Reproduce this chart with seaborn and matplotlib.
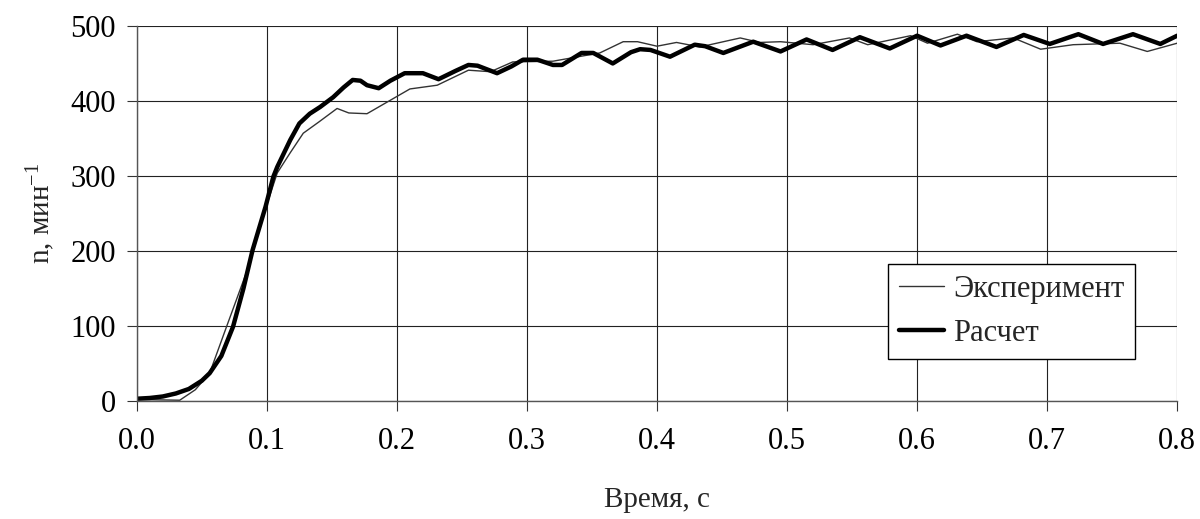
import matplotlib
matplotlib.use("Agg")
import matplotlib.pyplot as plt
import seaborn as sns
import pandas as pd

# --- data ---
calc_t = [0.000, 0.010, 0.020, 0.030, 0.040, 0.050, 0.056, 0.065, 0.074, 0.082,
          0.089, 0.094, 0.099, 0.105, 0.108, 0.118, 0.125, 0.133, 0.141, 0.151,
          0.159, 0.166, 0.172, 0.177, 0.186, 0.195, 0.206, 0.220, 0.232, 0.245,
          0.255, 0.262, 0.277, 0.288, 0.297, 0.308, 0.320, 0.327, 0.342, 0.351,
          0.366, 0.380, 0.387, 0.395, 0.410, 0.429, 0.437, 0.451, 0.474, 0.495,
          0.515, 0.535, 0.556, 0.579, 0.600, 0.618, 0.638, 0.661, 0.682, 0.702,
          0.724, 0.743, 0.766, 0.787, 0.800]
calc_n = [3, 4, 6, 10, 16, 27, 37, 60, 99, 150,
          201, 230, 259, 299, 312, 348, 370, 383, 392, 405,
          418, 428, 427, 421, 417, 427, 437, 437, 429, 440,
          448, 447, 437, 446, 455, 455, 448, 448, 464, 464,
          450, 465, 469, 468, 459, 475, 473, 464, 479, 466,
          482, 468, 485, 470, 487, 474, 487, 472, 488, 476,
          489, 476, 489, 476, 487]

exp_t = [0.000, 0.033, 0.045, 0.056, 0.069, 0.084, 0.092, 0.100, 0.108, 0.118,
         0.128, 0.140, 0.154, 0.163, 0.177, 0.190, 0.202, 0.210, 0.231, 0.255,
         0.272, 0.289, 0.320, 0.356, 0.374, 0.385, 0.400, 0.415, 0.433, 0.464,
         0.479, 0.495, 0.520, 0.548, 0.562, 0.595, 0.608, 0.631, 0.646, 0.674,
         0.695, 0.720, 0.756, 0.777, 0.800]
exp_n = [2, 1, 15, 37, 99, 170, 215, 262, 304, 331,
         357, 372, 390, 384, 383, 396, 408, 416, 421, 441,
         439, 452, 453, 464, 479, 479, 473, 478, 472, 484,
         478, 479, 475, 484, 475, 487, 477, 489, 479, 484,
         469, 475, 477, 466, 477]

x_ticks = [0.0, 0.1, 0.2, 0.3, 0.4, 0.5, 0.6, 0.7, 0.8]
y_ticks = [0, 100, 200, 300, 400, 500]
labels = ["Эксперимент", "Расчет"]

sns.set_theme(style="white")
plt.rcParams["font.family"] = ["Liberation Serif", "DejaVu Serif"]
plt.rcParams["mathtext.fontset"] = "custom"
plt.rcParams["mathtext.rm"] = "Liberation Serif"
plt.rcParams["mathtext.it"] = "Liberation Serif"

fig = plt.figure(figsize=(12, 5.19), dpi=100)
ax = fig.add_axes([0.114, 0.2274, 0.867, 0.7226])

df_exp = pd.DataFrame({"t": exp_t, "n": exp_n})
df_calc = pd.DataFrame({"t": calc_t, "n": calc_n})
sns.lineplot(data=df_exp, x="t", y="n", ax=ax, color="#333333", linewidth=1.0,
             label=labels[0], estimator=None, sort=False)
sns.lineplot(data=df_calc, x="t", y="n", ax=ax, color="black", linewidth=3.2,
             label=labels[1], estimator=None, sort=False)

ax.set_xlim(0, 0.8)
ax.set_ylim(0, 500)
ax.set_xticks(x_ticks)
ax.set_xticklabels([f"{v:.1f}" for v in x_ticks])
ax.set_yticks(y_ticks)
ax.set_yticklabels([str(v) for v in y_ticks])
ax.grid(True, color="#222222", linewidth=0.8)
for side in ["top", "right"]:
    ax.spines[side].set_visible(False)
for side in ["left", "bottom"]:
    ax.spines[side].set_color("#555555")
    ax.spines[side].set_linewidth(1.0)
ax.tick_params(axis="both", direction="out", length=7, width=0.8, color="#333333",
               labelsize=22, labelcolor="black", bottom=True, left=True)
ax.tick_params(axis="x", pad=12)
ax.tick_params(axis="y", pad=8)

ax.set_xlabel("Время, с", fontsize=21, labelpad=22)
ax.set_ylabel("n, мин$^{\\mathregular{-1}}$", fontsize=21, labelpad=10)

leg = ax.legend(loc="upper left", bbox_to_anchor=(0.722, 0.365), borderaxespad=0,
                fontsize=22, frameon=True, fancybox=False, edgecolor="black",
                framealpha=1, handlelength=1.5, handletextpad=0.28, borderpad=0.35,
                labelspacing=0.5)
leg.get_frame().set_linewidth(1.0)

fig.savefig("out.png", dpi=100, facecolor="white")
